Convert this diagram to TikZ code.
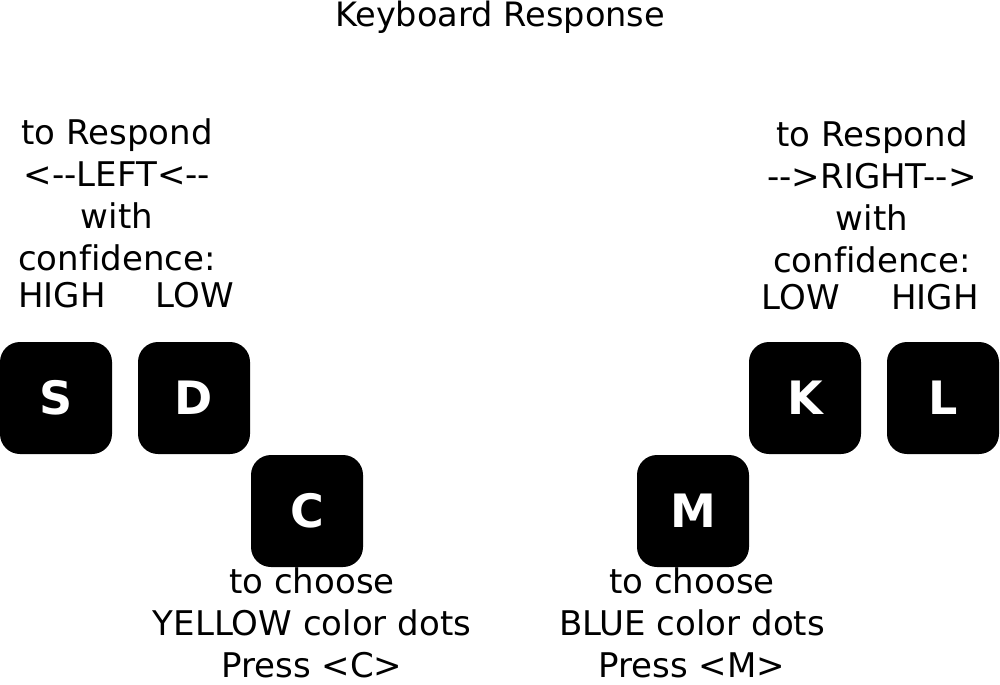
\documentclass[tikz,border=0pt]{standalone}
\usepackage{fontspec}
\setmainfont{DejaVu Sans}[Ligatures={NoCommon}]
\usepackage{tikz}
\usetikzlibrary{positioning}

\begin{document}
\begin{tikzpicture}[
    x=0.75pt, y=-0.75pt,
    keycap/.style={fill=black, rounded corners=15pt, minimum width=84pt, minimum height=84pt, inner sep=0pt, text=white, font=\fontsize{34.5}{34.5}\selectfont\bfseries},
    head/.style={align=center, inner sep=0pt, font=\fontsize{25.5}{31.5}\selectfont},
    level/.style={inner sep=0pt, anchor=base, font=\fontsize{25.5}{31.5}\selectfont},
    foot/.style={align=center, inner sep=0pt, anchor=north, font=\fontsize{25.5}{31.8}\selectfont},
    title/.style={inner sep=0pt, anchor=base, font=\fontsize{25.2}{30}\selectfont}
]
    \useasboundingbox (0,0) rectangle (1000,685);

    % Title
    \node[title] (title) at (500,27) {Keyboard Response};

    % Left hand keys
    \node[keycap] (keyS) at (56,398) {S};
    \node[keycap] (keyD) at (194,398) {D};
    \node[keycap] (keyC) at (307,511) {C};

    % Right hand keys
    \node[keycap] (keyK) at (805,398) {K};
    \node[keycap] (keyL) at (943,398) {L};
    \node[keycap] (keyM) at (693,511) {M};

    % Left instructions
    \node[head, anchor=north] (lefthead) at (117,118) {to Respond\\<-{}-LEFT<-{}-\\with\\confidence:};
    \node[level] (lefthigh) at (62,307) {HIGH};
    \node[level] (leftlow) at (195,307) {LOW};

    % Right instructions
    \node[head, anchor=north] (righthead) at (872,120) {to Respond\\-{}->RIGHT-{}->\\with\\confidence:};
    \node[level] (rightlow) at (801,309) {LOW};
    \node[level] (righthigh) at (935,309) {HIGH};

    % Colour choice
    \node[foot] (yellow) at (312,567) {to choose\\YELLOW color dots\\Press <C>};
    \node[foot] (blue) at (692,567) {to choose\\BLUE color dots\\Press <M>};

\end{tikzpicture}
\end{document}
